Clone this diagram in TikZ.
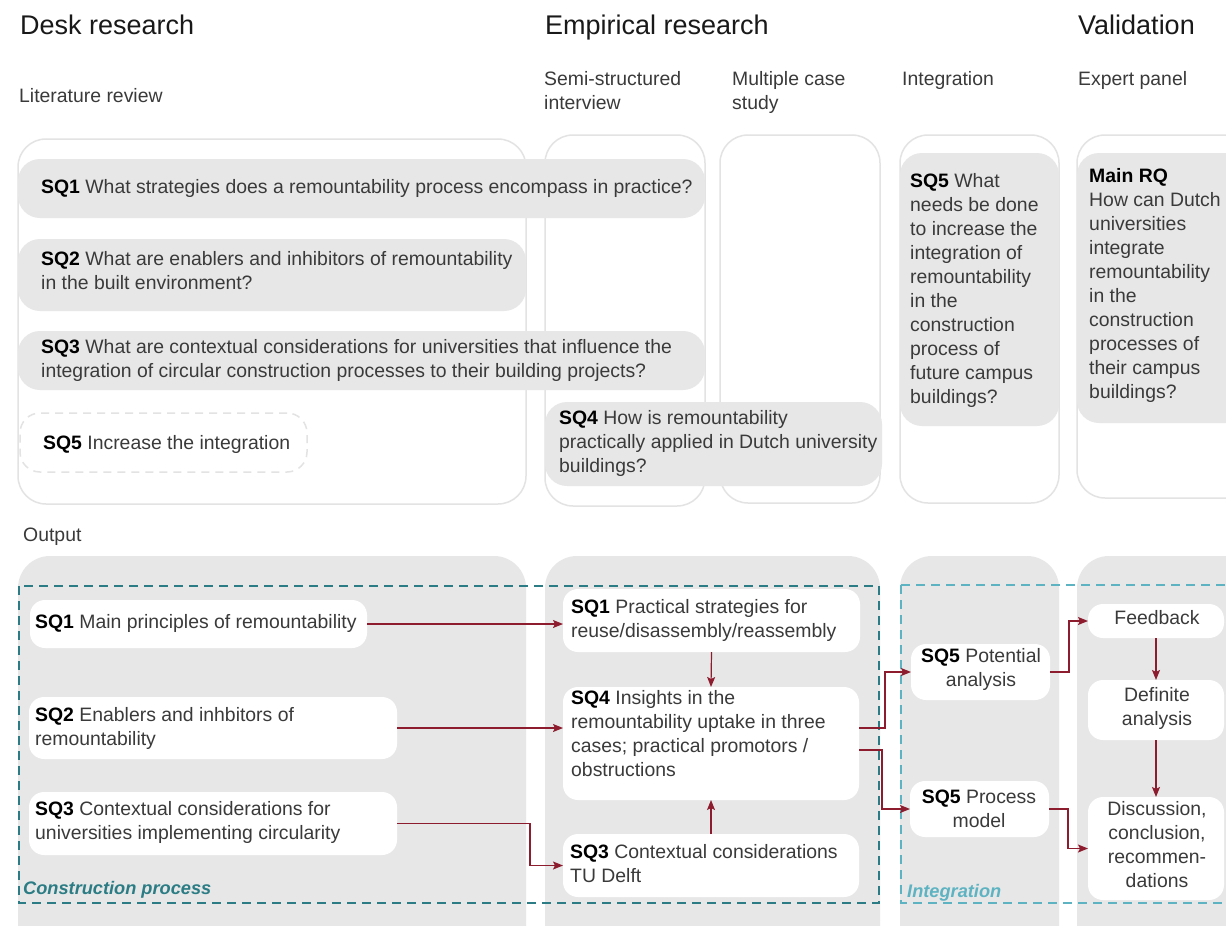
\documentclass[tikz,border=0pt]{standalone}
\usepackage{fontspec}
\setmainfont{Liberation Sans}
\usetikzlibrary{arrows.meta,fit}

\definecolor{txt}{HTML}{3A3A3A}
\definecolor{rim}{HTML}{E3E3E3}
\definecolor{shade}{HTML}{E7E7E7}
\definecolor{deepteal}{HTML}{2B7C84}
\definecolor{lightteal}{HTML}{5DB3C2}
\definecolor{arrowred}{HTML}{8C1C2E}

\newcommand{\qlabel}[1]{{\color{black}\bfseries #1}}
% stacked lines whose baseline is that of the first line
\newcommand{\rows}[2]{\begin{tabular}[t]{@{}#1@{}}#2\end{tabular}}

\tikzset{
  nopad/.style={inner sep=0pt, outer sep=0pt},
  panel/.style={nopad, draw=rim, line width=1.5pt, fill=white, rounded corners=28pt},
  qbox/.style={nopad, fill=shade, rounded corners=22pt},
  hintbox/.style={nopad, draw=rim, dash pattern=on 8pt off 6pt, line width=1.5pt, fill=white, rounded corners=20pt},
  lane/.style={nopad, fill=shade, rounded corners=32pt},
  card/.style={nopad, fill=white, rounded corners=15pt},
  zone/.style={nopad, dash pattern=on 9pt off 6pt, line width=1.4pt},
  body/.style={inner sep=0pt, anchor=base west, text=txt, font=\fontsize{19.4}{24}\selectfont},
  cbody/.style={body, anchor=base},
  title/.style={inner sep=0pt, anchor=base west, text=black!90, font=\fontsize{27}{32}\selectfont},
  zonelabel/.style={inner sep=0pt, anchor=base west, font=\fontsize{18.2}{20}\selectfont\bfseries\itshape},
  arr/.style={draw=arrowred, line width=1.2pt, -{Stealth[length=10pt,width=8pt,inset=2pt]}},
}

\begin{document}
\begin{tikzpicture}[x=1pt,y=-1pt]
\clip (0,0) rectangle (1226,926);
\fill[white] (0,0) rectangle (1226,926);

% ---------- column headings ----------
\node[title] (hdesk) at (20,34) {Desk research};
\node[title] (hemp) at (545,34) {Empirical research};
\node[title] (hval) at (1078,34) {Validation};

\node[body] (slit) at (19,102) {Literature review};
\node[body] (ssemi) at (544,85) {\rows{l}{Semi-structured\\interview}};
\node[body] (scase) at (732,85) {\rows{l}{Multiple case\\study}};
\node[body] (sint) at (902,85) {Integration};
\node[body] (sexp) at (1078,85) {Expert panel};

% ---------- research question panels ----------
\node[panel, fit={(18,139) (526,504)}] (plit) {};
\node[panel, fit={(545,135) (705,506)}] (psemi) {};
\node[panel, fit={(720,135) (880,503)}] (pcase) {};
\node[panel, fit={(900,135) (1059,503)}] (pint) {};
\node[panel, fit={(1077,135) (1260,498)}] (pexp) {};

\node[qbox, fit={(18,159) (705,218)}] (rq1) {};
\node[body] (trq1) at (41,193) {\qlabel{SQ1} What strategies does a remountability process encompass in practice?};

\node[qbox, fit={(18,239) (526,311)}] (rq2) {};
\node[body] (trq2) at (41,265) {\rows{l}{\qlabel{SQ2} What are enablers and inhibitors of remountability\\in the built environment?}};

\node[qbox, fit={(18,331) (705,390)}] (rq3) {};
\node[body] (trq3) at (41,353) {\rows{l}{\qlabel{SQ3} What are contextual considerations for universities that influence the\\integration of circular construction processes to their building projects?}};

\node[hintbox, fit={(20,413) (307,472)}] (rq5a) {};
\node[body] (trq5a) at (43,449) {\qlabel{SQ5} Increase the integration};

\node[qbox, fit={(545,402) (882,486)}] (rq4) {};
\node[body] (trq4) at (559,424) {\rows{l}{\qlabel{SQ4} How is remountability\\practically applied in Dutch university\\buildings?}};

\node[qbox, fit={(900,153) (1059,426)}] (rq5) {};
\node[body] (trq5) at (910,187) {\rows{l}{\qlabel{SQ5} What\\needs be done\\to increase the\\integration of\\remountability\\in the\\construction\\process of\\future campus\\buildings?}};

\node[qbox, fit={(1077,153) (1260,423)}] (rqm) {};
\node[body] (trqm) at (1089,182) {\rows{l}{\qlabel{Main RQ}\\How can Dutch\\universities\\integrate\\remountability\\in the\\construction\\processes of\\their campus\\buildings?}};

% ---------- output ----------
\node[body] (sout) at (23,541) {Output};

\node[lane, fit={(18,556) (526,960)}] (l1) {};
\node[lane, fit={(545,556) (880,960)}] (l2) {};
\node[lane, fit={(900,556) (1059,960)}] (l3) {};
\node[lane, fit={(1077,556) (1260,960)}] (l4) {};

\draw[zone, draw=deepteal] (19,586) rectangle (879,903);
\draw[zone, draw=lightteal] (901,585) rectangle (1240,903);
\node[zonelabel, text=deepteal] (zc) at (23,894) {Construction process};
\node[zonelabel, text=lightteal] (zi) at (907,897) {Integration};

% desk research results
\node[card, fit={(30,600) (367,648)}] (b1) {};
\node[body] (tb1) at (35,628) {\qlabel{SQ1} Main principles of remountability};
\node[card, fit={(29,697) (397,759)}] (b2) {};
\node[body] (tb2) at (35,721) {\rows{l}{\qlabel{SQ2} Enablers and inhbitors of\\remountability}};
\node[card, fit={(29,792) (397,855)}] (b3) {};
\node[body] (tb3) at (35,815) {\rows{l}{\qlabel{SQ3} Contextual considerations for\\universities implementing circularity}};

% empirical results
\node[card, fit={(563,589) (860,652)}] (p1) {};
\node[body] (tp1) at (571,613) {\rows{l}{\qlabel{SQ1} Practical strategies for\\reuse/disassembly/reassembly}};
\node[card, fit={(563,687) (859,800)}] (q4) {};
\node[body] (tq4) at (571,704) {\rows{l}{\qlabel{SQ4} Insights in the\\remountability uptake in three\\cases; practical promotors /\\obstructions}};
\node[card, fit={(563,834) (859,897)}] (t3) {};
\node[body] (tt3) at (570,858) {\rows{l}{\qlabel{SQ3} Contextual considerations\\TU Delft}};

% integration results
\node[card, fit={(911,644) (1050,700)}] (s5a) {};
\node[cbody] (ts5a) at (981,662) {\rows{c}{\qlabel{SQ5} Potential\\analysis}};
\node[card, fit={(910,781) (1049,837)}] (s5p) {};
\node[cbody] (ts5p) at (979,803) {\rows{c}{\qlabel{SQ5} Process\\model}};

% validation results
\node[card, fit={(1088,604) (1224,638)}] (fb) {};
\node[cbody] (tfb) at (1157,624) {Feedback};
\node[card, fit={(1088,680) (1224,740)}] (df) {};
\node[cbody] (tdf) at (1157,701) {\rows{c}{Definite\\analysis}};
\node[card, fit={(1088,797) (1224,900)}] (dc) {};
\node[cbody] (tdc) at (1157,815) {\rows{c}{Discussion,\\conclusion,\\recommen-\\dations}};

% ---------- flow ----------
\coordinate (k3) at (530,0);
\draw[arr] (b1.east) -- (b1.east -| p1.west);
\draw[arr] (b2.east) -- (b2.east -| q4.west);
\draw[arr] (b3.east) -- (b3.east -| k3) |- (t3.west);
\draw[arr] (p1.south) -- (q4.north);
\draw[arr] (t3.north) -- (q4.south);
\draw[arr] ([yshift=15.5pt]q4.east) -- ++(26,0) |- (s5a.west);
\draw[arr] ([yshift=-6.5pt]q4.east) -- ++(23,0) |- (s5p.west);
\draw[arr] (s5a.east) -- ++(19,0) |- (fb.west);
\draw[arr] (fb.south) -- (df.north);
\draw[arr] (df.south) -- (dc.north);
\draw[arr] (s5p.east) -- ++(19,0) |- (dc.west);
\end{tikzpicture}
\end{document}
